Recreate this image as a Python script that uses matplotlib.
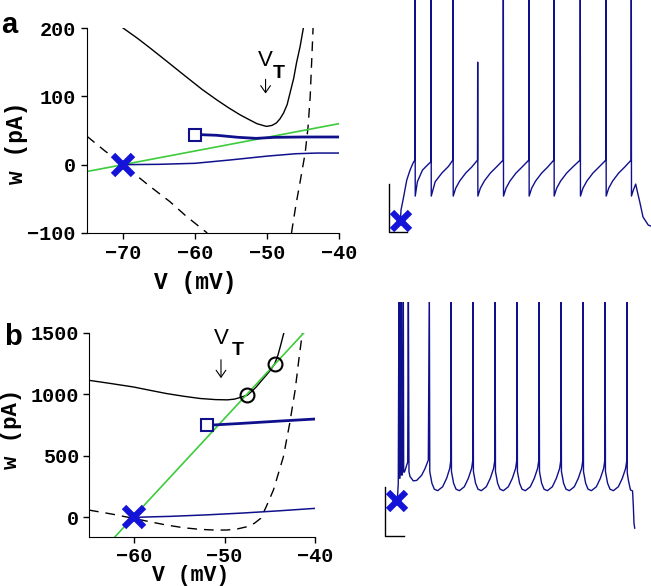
import matplotlib
matplotlib.use("Agg")
import matplotlib.pyplot as plt

# ---------------- phase plane, panel a ----------------
va_null = [-70, -68, -66.25, -64, -61.6, -59, -57, -55.3, -53.75, -52.5, -51.4, -50.6,
           -50.05, -49.3, -48.7, -48.2, -47.7, -47.2, -46.8, -46.3, -45.9, -45.4, -44.95]
wa_null = [200, 185, 170.8, 152, 131.7, 110, 95, 83, 73, 66, 60, 57.5,
           56, 57.5, 61, 67, 75.6, 88, 105, 126, 149, 173, 200]
va_dash_left = [-75, -72.5, -70, -66.25, -63.5, -61.2, -58.3]
wa_dash_left = [41.5, 20, 0, -31.8, -54, -75.6, -100]
va_dash_right = [-46.6, -46.0, -45.4, -44.7, -44.3, -44.0, -43.8, -43.6]
wa_dash_right = [-100, -60, -25, 17, 55, 100, 150, 200]
va_green = [-75, -40]
wa_green = [-10, 60]
va_traj1 = [-70, -65, -60, -55, -50, -46, -43, -40]
wa_traj1 = [0, 0.5, 2, 7, 12.5, 16, 17, 17]
va_traj2 = [-59.5, -57, -54, -51.5, -49, -45, -40]
wa_traj2 = [44, 43, 40, 38.5, 40, 40.5, 40.5]
va_reset, wa_reset = -60, 44
va_rest, wa_rest = -70, 0

# ---------------- phase plane, panel b ----------------
vb_null = [-65, -62.5, -60.1, -58, -56.4, -54.5, -52.7, -51, -49.7, -48.9, -48.3, -47.5,
           -47, -46.5, -46, -45.4, -44.9, -44.45, -44.1, -43.8, -43.45]
wb_null = [1115, 1088, 1061, 1030, 1007, 985, 967, 958, 956, 962, 975, 993,
           1025, 1061, 1105, 1156, 1200, 1251, 1320, 1400, 1500]
vb_dash = [-65, -62.5, -60.1, -58, -56.4, -54.5, -52.7, -51, -49.7, -48.5, -47.5, -46.7,
           -46.0, -45.4, -44.6, -43.5, -42.8, -42.2, -41.75, -41.4]
wb_dash = [59, 27, -8, -40, -63, -85, -98, -104, -103, -93, -76, -48,
           -8, 86, 222, 492, 764, 1034, 1305, 1500]
vb_green = [-62.15, -41.25]
wb_green = [-160, 1500]
vb_traj1 = [-60, -56, -52, -48, -44, -40]
wb_traj1 = [0, 8, 20, 35, 53, 73]
vb_traj2 = [-51.6, -48, -44, -40]
wb_traj2 = [750, 765, 783, 800]
vb_circ = [-47.5, -44.45]
wb_circ = [993, 1251]
vb_reset, wb_reset = -52, 750
vb_rest, wb_rest = -60, 0

# ---------------- voltage traces (t in ms, V in mV) ----------------
ta = [1.5, 2.2, 4.4, 8.6, 12.2, 15.6, 17.6,
      17.8, 18.0, 20.4, 26.0, 31.5, 35.4,
      35.6, 35.8, 40.2, 47.6, 55.0, 59.8,
      60.0, 60.2, 63.0, 67.4, 74.1, 80.8, 87.2,
      87.4, 87.6, 90.4, 94.8, 101.5, 108.2, 115.7,
      115.9, 116.1, 118.9, 123.3, 130.0, 136.7, 144.2,
      144.4, 144.6, 147.4, 151.8, 158.5, 165.2, 172.0,
      172.2, 172.4, 175.2, 179.6, 186.3, 193.0, 201.2,
      201.4, 201.6, 204.4, 208.8, 215.5, 222.2, 229.8,
      230.0, 230.2, 233.0, 237.4, 244.1, 250.8, 257.9,
      258.1, 258.3, 260.0, 263.0, 265.0, 267.8, 271.1, 277.0, 280.0]
Va = [-70, -65.4, -61.3, -52.9, -48.8, -45.8, -44.6,
      30, -59.6, -53.6, -48.8, -46.7, -45.3,
      30, -59.6, -53.6, -50.0, -47.2, -44.6,
      30, -59.6, -56.3, -53.3, -50.0, -47.5, -44.6,
      -3.8, -59.6, -56.3, -53.3, -50.0, -47.5, -44.6,
      30, -59.6, -56.3, -53.3, -50.0, -47.5, -44.6,
      30, -59.6, -56.3, -53.3, -50.0, -47.5, -44.6,
      30, -59.6, -56.3, -53.3, -50.0, -47.5, -44.6,
      30, -59.6, -56.3, -53.3, -50.0, -47.5, -44.6,
      30, -59.6, -56.3, -53.3, -50.0, -47.5, -44.6,
      30, -59.6, -57.5, -54.6, -58.0, -62.5, -68.3, -71.7, -72.1]

tb = [0, 0.8, 1.4, 2.2, 2.6, 3.3, 4.4, 4.8, 5.9, 7.0, 7.4, 8.3, 11.9,
      12.6, 13.3, 14.4, 18.1, 21.9, 27.4, 31.1, 34.8,
      35.9, 36.4, 38.8, 41.5, 45.2, 50.7, 55.2, 58.6, 59.8,
      60.0, 60.5, 62.9, 65.6, 69.3, 74.8, 79.3, 82.9, 84.2,
      84.4, 84.9, 87.3, 90.0, 93.7, 99.2, 103.7, 107.3, 108.7,
      108.9, 109.4, 111.8, 114.5, 118.2, 123.7, 128.2, 131.8, 133.1,
      133.3, 133.8, 136.2, 138.9, 142.6, 148.1, 152.6, 156.2, 157.6,
      157.8, 158.3, 160.7, 163.4, 167.1, 172.6, 177.1, 180.7, 182.0,
      182.2, 182.7, 185.1, 187.8, 191.5, 197.0, 201.5, 205.1, 206.5,
      206.7, 207.2, 209.6, 212.3, 216.0, 221.5, 226.0, 229.6, 230.9,
      231.1, 231.6, 234.0, 236.7, 240.4, 245.9, 250.4, 254.0, 255.4,
      255.6, 255.8, 257.0, 259.4, 261.7, 262.6, 263.3, 264.1]
Vb = [-60, -56.9, -52.8, 30, -50.7, -50.7, 30, -49.4, -49.4, 30, -48.2, -48.2, -44.1,
      30, -48.0, -50.0, -51.8, -51.6, -49.5, -46.8, -43.3,
      30, -48.0, -52.8, -55.2, -55.8, -54.2, -50.7, -46.7, -43.3,
      30, -48.0, -52.8, -55.2, -55.8, -54.2, -50.7, -46.7, -43.3,
      30, -48.0, -52.8, -55.2, -55.8, -54.2, -50.7, -46.7, -43.3,
      30, -48.0, -52.8, -55.2, -55.8, -54.2, -50.7, -46.7, -43.3,
      30, -48.0, -52.8, -55.2, -55.8, -54.2, -50.7, -46.7, -43.3,
      30, -48.0, -52.8, -55.2, -55.8, -54.2, -50.7, -46.7, -43.3,
      30, -48.0, -52.8, -55.2, -55.8, -54.2, -50.7, -46.7, -43.3,
      30, -48.0, -52.8, -55.2, -55.8, -54.2, -50.7, -46.7, -43.3,
      30, -48.0, -52.8, -55.2, -55.8, -54.2, -50.7, -46.7, -43.3,
      30, -48.5, -51.4, -55.5, -55.9, -62.3, -69.1, -71.1]

NAVY = '#10108c'
XBLUE = '#1414d8'
GREEN = '#3ccc3c'
W, H = 651, 586

plt.rcParams['font.family'] = ['Liberation Mono', 'DejaVu Sans Mono']
plt.rcParams['font.weight'] = 'bold'


def px_axes(fig, left, top, right, bottom):
    """Axes placed by pixel edges of the 651x586 canvas."""
    return fig.add_axes([left / W, 1 - bottom / H, (right - left) / W, (bottom - top) / H])


def style_phase(ax, pad=4):
    for s in ('top', 'right'):
        ax.spines[s].set_visible(False)
    ax.tick_params(direction='out', length=4, width=1, labelsize=14.5, pad=pad)
    for lab in ax.get_xticklabels() + ax.get_yticklabels():
        lab.set_fontweight('bold')


def draw_vt(ax, xv, yv, xt, yt, y0, y1):
    ax.text(xv, yv, 'V', family='Liberation Sans', weight='normal', fontsize=16,
            ha='center', va='center')
    ax.text(xt, yt, 'T', family='Liberation Sans', weight='bold', fontsize=14,
            ha='center', va='center')
    ax.annotate('', xy=(xv, y1), xytext=(xv, y0),
                arrowprops=dict(arrowstyle='->,head_length=0.5,head_width=0.35',
                                lw=0.8, color='black'))


fig = plt.figure(figsize=(W / 100, H / 100), dpi=100)

# ---- panel a phase plane ----
ax = px_axes(fig, 87, 28, 339, 233)
ax.plot(va_null, wa_null, color='black', lw=1)
ax.plot(va_dash_left, wa_dash_left, color='black', lw=1, dashes=(7, 5))
ax.plot(va_dash_right, wa_dash_right, color='black', lw=1, dashes=(7, 5))
ax.plot(va_green, wa_green, color=GREEN, lw=1.2)
ax.plot(va_traj1, wa_traj1, color=NAVY, lw=1.1)
ax.plot(va_traj2, wa_traj2, color=NAVY, lw=2)
ax.plot(va_reset, wa_reset, 's', ms=8, mfc='white', mec=NAVY, mew=1.5)
ax.plot(va_rest, wa_rest, 'x', ms=14, mew=4.5, color=XBLUE)
draw_vt(ax, -50.2, 153, -48.3, 134, 129, 100)
ax.set_xlim(-75, -40)
ax.set_ylim(-100, 200)
ax.set_xticks([-70, -60, -50, -40])
ax.set_yticks([-100, 0, 100, 200])
style_phase(ax)

# ---- panel b phase plane ----
bx = px_axes(fig, 89, 333, 315, 537)
bx.plot(vb_null, wb_null, color='black', lw=1)
bx.plot(vb_dash, wb_dash, color='black', lw=1, dashes=(7, 5))
bx.plot(vb_green, wb_green, color=GREEN, lw=1.2)
bx.plot(vb_traj1, wb_traj1, color=NAVY, lw=1.1)
bx.plot(vb_traj2, wb_traj2, color=NAVY, lw=2)
bx.plot(vb_reset, wb_reset, 's', ms=8, mfc='white', mec=NAVY, mew=1.5)
bx.plot(vb_circ, wb_circ, 'o', ms=10, mfc='none', mec='black', mew=1.5)
bx.plot(vb_rest, wb_rest, 'x', ms=14, mew=4.5, color=XBLUE)
draw_vt(bx, -50.4, 1455, -48.6, 1355, 1305, 1110)
bx.set_xlim(-65, -40)
bx.set_ylim(-160, 1500)
bx.set_xticks([-60, -50, -40])
bx.set_yticks([0, 500, 1000, 1500])
style_phase(bx, pad=3)

# ---- axis labels and panel letters ----
fig.text(195 / W, 1 - 282 / H, 'V (mV)', fontsize=16.5, ha='center', va='center')
fig.text(17 / W, 1 - 143 / H, 'w (pA)', fontsize=16.5, rotation=90, ha='center', va='center')
fig.text(191 / W, 1 - 586 / H, 'V (mV)', fontsize=15.5, ha='center', va='bottom')
fig.text(11 / W, 1 - 429 / H, 'w (pA)', fontsize=16, rotation=90, ha='center', va='center')
fig.text(1 / W, 1 - 33 / H, 'a', family='Liberation Sans', weight='bold', fontsize=21,
         va='baseline')
fig.text(4 / W, 1 - 345 / H, 'b', family='Liberation Sans', weight='bold', fontsize=21,
         va='baseline')

# ---- voltage traces ----
tra = px_axes(fig, 385, 0, 651, 240)
tra.plot(ta, Va, color=NAVY, lw=1)
tra.plot([-11.1, -11.1, 8.9], [-54.6, -74.6, -74.6], color='black', lw=1, clip_on=False)
tra.plot(2, -70, 'x', ms=13, mew=4.5, color=XBLUE)
tra.set_xlim(-15.6, 280)
tra.set_ylim(-77.9, 22.1)
tra.axis('off')

trb = px_axes(fig, 380, 302, 651, 586)
trb.plot(tb, Vb, color=NAVY, lw=1)
trb.plot([-13, -13, 7.4], [-54.2, -74.3, -74.3], color='black', lw=1, clip_on=False)
trb.plot(-0.5, -60, 'x', ms=13, mew=4.5, color=XBLUE)
trb.set_xlim(-18.9, 282.2)
trb.set_ylim(-94.7, 21.2)
trb.axis('off')

fig.savefig('out.png', dpi=100)
